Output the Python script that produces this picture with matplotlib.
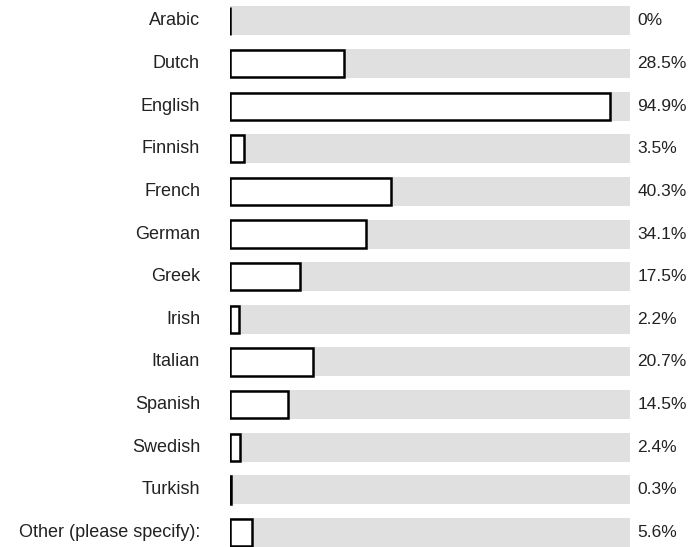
import matplotlib
matplotlib.use("Agg")
import matplotlib.pyplot as plt

categories = ["Arabic", "Dutch", "English", "Finnish", "French", "German", "Greek",
              "Irish", "Italian", "Spanish", "Swedish", "Turkish", "Other (please specify):"]
values = [0, 28.5, 94.9, 3.5, 40.3, 34.1, 17.5, 2.2, 20.7, 14.5, 2.4, 0.3, 5.6]
labels = ["0%", "28.5%", "94.9%", "3.5%", "40.3%", "34.1%", "17.5%", "2.2%",
          "20.7%", "14.5%", "2.4%", "0.3%", "5.6%"]

plt.rcParams['font.family'] = ['Liberation Sans', 'DejaVu Sans']

fig = plt.figure(figsize=(6.95, 5.47), dpi=100)
ax = fig.add_axes([230/695, 0, 400/695, 1])

y = list(range(len(categories)))
ax.barh(y, [100]*len(y), height=0.68, color="#e0e0e0", edgecolor="none", zorder=1)
ax.barh(y, values, height=0.64, color="white", edgecolor="black", linewidth=1.8, zorder=2)

ax.set_xlim(0, 100)
ax.set_ylim(12.34, -0.49)
for s in ax.spines.values():
    s.set_visible(False)
ax.set_xticks([])
ax.set_yticks([])

for yi, cat, lab in zip(y, categories, labels):
    ax.text(-7.5, yi, cat, ha="right", va="center", fontsize=13, color="#222222")
    ax.text(101.8, yi, lab, ha="left", va="center", fontsize=12.5, color="#222222")

fig.savefig("out.png", dpi=100)
